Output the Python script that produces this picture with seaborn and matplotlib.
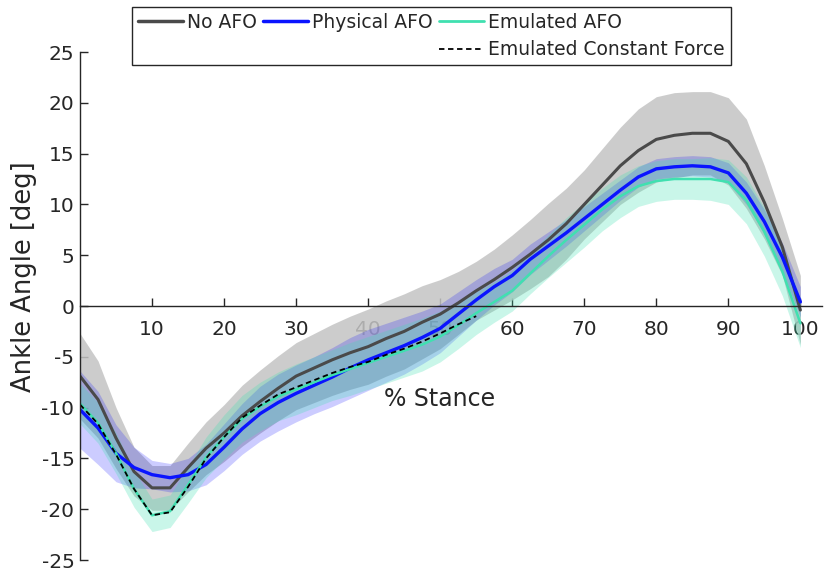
import numpy as np
import pandas as pd
import matplotlib
matplotlib.use('Agg')
import matplotlib.pyplot as plt
from matplotlib.lines import Line2D
import seaborn as sns

# % stance grid
stance = [0, 2.5, 5, 7.5, 10, 12.5, 15, 17.5, 20, 22.5, 25, 27.5, 30, 32.5, 35, 37.5, 40,
          42.5, 45, 47.5, 50, 52.5, 55, 57.5, 60, 62.5, 65, 67.5, 70, 72.5, 75, 77.5, 80,
          82.5, 85, 87.5, 90, 92.5, 95, 97.5, 100]

no_afo = [-6.9, -9.2, -13.0, -16.3, -17.9, -17.9, -15.9, -14.0, -12.5, -10.8, -9.4, -8.1, -6.9,
          -6.1, -5.3, -4.6, -4.0, -3.2, -2.5, -1.6, -0.8, 0.3, 1.5, 2.6, 3.8, 5.1, 6.5, 8.1,
          10.0, 11.9, 13.8, 15.3, 16.4, 16.8, 17.0, 17.0, 16.2, 14.0, 10.2, 5.8, -0.4]
no_afo_sd = [4.2, 3.8, 3.0, 2.4, 2.2, 2.2, 2.4, 2.6, 2.8, 3.0, 3.1, 3.2, 3.3, 3.4, 3.5, 3.6, 3.7,
             3.7, 3.7, 3.6, 3.4, 3.1, 2.9, 3.0, 3.2, 3.4, 3.6, 3.5, 3.4, 3.6, 3.8, 4.1, 4.2,
             4.2, 4.1, 4.1, 4.3, 4.4, 3.6, 2.8, 3.4]

physical = [-10.2, -12.0, -14.5, -15.9, -16.6, -16.9, -16.6, -15.6, -13.9, -12.1, -10.6, -9.5,
            -8.6, -7.8, -7.0, -6.1, -5.3, -4.6, -3.9, -3.1, -2.2, -0.8, 0.6, 1.9, 3.0, 4.6,
            5.9, 7.2, 8.6, 10.0, 11.4, 12.7, 13.5, 13.7, 13.8, 13.7, 13.1, 11.1, 8.3, 4.8, 0.4]
physical_sd = [3.8, 3.6, 2.8, 2.0, 1.4, 1.4, 1.6, 2.0, 2.3, 2.5, 2.7, 2.8, 2.8, 2.8, 2.9, 3.0,
               3.0, 2.9, 2.8, 2.6, 2.4, 2.2, 2.0, 1.8, 1.6, 1.5, 1.4, 1.3, 1.2, 1.1, 1.0, 1.0,
               1.0, 1.0, 1.0, 1.0, 1.0, 1.1, 1.2, 1.4, 1.5]

emulated = [-9.6, -11.5, -14.5, -18.0, -20.6, -20.2, -17.6, -14.9, -12.9, -11.1, -9.9, -8.9,
            -8.2, -7.5, -6.8, -6.2, -5.6, -5.0, -4.4, -3.8, -3.0, -1.9, -0.7, 0.4, 1.5, 3.2,
            4.9, 6.5, 8.0, 9.5, 10.8, 11.8, 12.3, 12.5, 12.5, 12.5, 12.2, 10.4, 7.3, 3.4, -1.7]
emulated_sd = [2.0, 2.0, 2.0, 1.8, 1.6, 1.6, 1.8, 2.0, 2.2, 2.3, 2.4, 2.4, 2.5, 2.5, 2.5, 2.6,
               2.6, 2.6, 2.6, 2.6, 2.5, 2.3, 2.1, 2.0, 2.0, 2.0, 2.1, 2.2, 2.2, 2.1, 2.1, 2.0,
               2.0, 2.0, 2.0, 2.1, 2.2, 2.3, 2.4, 2.4, 2.4]

const_stance = stance[:23]
const_force = [-9.7, -11.6, -14.6, -18.0, -20.6, -20.3, -17.8, -15.0, -12.9, -11.0, -9.8, -8.7,
               -8.0, -7.3, -6.6, -6.0, -5.5, -4.8, -4.2, -3.5, -2.7, -1.8, -1.0]

y_ticks = [-25, -20, -15, -10, -5, 0, 5, 10, 15, 20, 25]
x_ticks = [10, 20, 30, 40, 50, 60, 70, 80, 90, 100]

c_gray, c_blue, c_green = '#4a4a4a', '#0a14ff', '#40e0b0'

sns.set_theme(style='white')
plt.rcParams['font.family'] = ['DejaVu Sans']
plt.rcParams['axes.unicode_minus'] = False

fig = plt.figure(figsize=(8.26, 5.71), dpi=100)
ax = fig.add_axes([80 / 826, 1 - 560 / 571, 742 / 826, 508 / 571])

df = pd.DataFrame({'x': stance, 'no': no_afo, 'no_sd': no_afo_sd, 'ph': physical,
                   'ph_sd': physical_sd, 'em': emulated, 'em_sd': emulated_sd})

ax.fill_between(df['x'], df['no'] - df['no_sd'], df['no'] + df['no_sd'],
                color='#c4c4c4', alpha=0.85, lw=0)
ax.fill_between(df['x'], df['ph'] - df['ph_sd'], df['ph'] + df['ph_sd'],
                color='#0000ff', alpha=0.2, lw=0)
ax.fill_between(df['x'], df['em'] - df['em_sd'], df['em'] + df['em_sd'],
                color=c_green, alpha=0.28, lw=0)

sns.lineplot(data=df, x='x', y='no', ax=ax, color=c_gray, lw=2.2)
sns.lineplot(data=df, x='x', y='ph', ax=ax, color=c_blue, lw=2.4)
sns.lineplot(data=df, x='x', y='em', ax=ax, color=c_green, lw=1.8)
sns.lineplot(x=const_stance, y=const_force, ax=ax, color='black', lw=1.3, linestyle=(0, (3, 2)))

ax.set_xlim(0, 103)
ax.set_ylim(-25, 25)
ax.spines['bottom'].set_position(('data', 0))
ax.spines['top'].set_visible(False)
ax.spines['right'].set_visible(False)
for s in ['left', 'bottom']:
    ax.spines[s].set_color('#262626')
    ax.spines[s].set_linewidth(1.0)
ax.set_xticks(x_ticks)
ax.set_yticks(y_ticks)
ax.tick_params(axis='both', direction='in', length=6, width=1, color='#262626',
               labelsize=14.5, labelcolor='#262626', left=True, bottom=True)
ax.tick_params(axis='x', pad=10)
ax.tick_params(axis='y', pad=4)
ax.set_xlabel('% Stance', fontsize=17, color='#262626')
ax.xaxis.set_label_coords(0.484, 0.34)
ax.set_ylabel('Ankle Angle [deg]', fontsize=18.5, color='#262626')
ax.yaxis.set_label_coords(-0.058, 0.557)

blank = Line2D([], [], color='none')
handles = [Line2D([], [], color=c_gray, lw=2.5), blank,
           Line2D([], [], color=c_blue, lw=2.5), blank,
           Line2D([], [], color=c_green, lw=2.0),
           Line2D([], [], color='black', lw=1.3, linestyle=(0, (3, 2)))]
labels = ['No AFO', '', 'Physical AFO', '', 'Emulated AFO', 'Emulated Constant Force']
leg = fig.legend(handles, labels, ncol=3, loc='upper left',
                 bbox_to_anchor=(132 / 826, 1 - 7 / 571), borderaxespad=0,
                 prop={'size': 13.5},
                 handlelength=2.4, handletextpad=0.25, columnspacing=0.3,
                 borderpad=0.3, labelspacing=0.45, fancybox=False, framealpha=1,
                 edgecolor='#262626')
leg.get_frame().set_linewidth(1.0)

fig.savefig('out.png', dpi=100)
